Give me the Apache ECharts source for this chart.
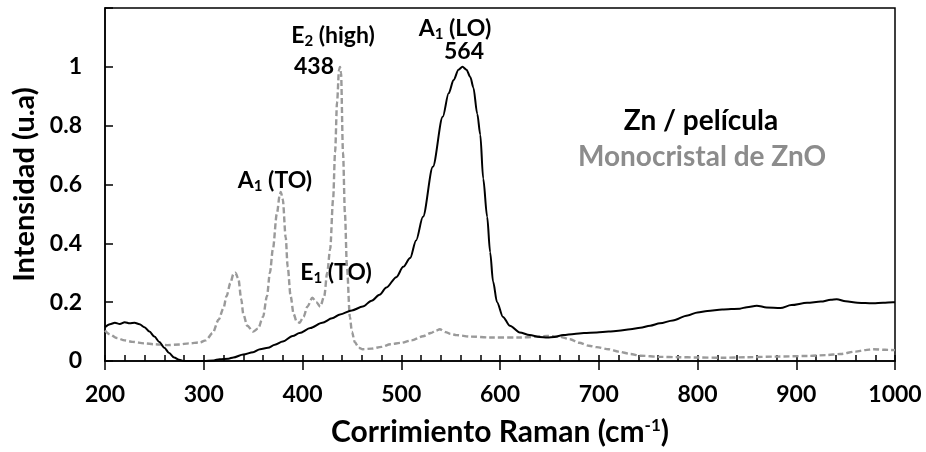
<!DOCTYPE html>
<html>
<head>
<meta charset="utf-8">
<script src="https://cdn.jsdelivr.net/npm/echarts@6/dist/echarts.min.js"></script>
<style>
html,body{margin:0;padding:0;background:#fff;}
#c{width:926px;height:452px;}
</style>
</head>
<body>
<div id="c"></div>
<script>
// Zn / película (solid black)
var filmX = [200,205,210,215,220,225,230,235,240,245,250,255,260,265,270,275,280,290,300,310,316,325,330,340,350,357,365,372,380,390,397,408,420,430,438,450,461,470,478,485,495,502,509,515,522,532,542,548,553,558,562,566,570,573,577,580,583,587,590,593,597,603,610,620,630,640,648,655,664,675,685,698,710,720,732,742,752,762,775,790,800,810,825,843,850,860,870,884,895,911,925,935,941,950,962,970,978,988,998,1000];
var filmY = [0.115,0.125,0.13,0.126,0.132,0.128,0.13,0.125,0.115,0.1,0.083,0.065,0.045,0.027,0.012,0.004,0.0,0.0,0.0,0.002,0.006,0.008,0.012,0.022,0.03,0.04,0.045,0.055,0.066,0.085,0.095,0.112,0.13,0.145,0.158,0.172,0.185,0.205,0.225,0.25,0.285,0.32,0.35,0.41,0.49,0.66,0.83,0.91,0.955,0.99,1.0,0.99,0.965,0.93,0.84,0.77,0.62,0.49,0.37,0.27,0.2,0.15,0.12,0.097,0.088,0.082,0.08,0.082,0.088,0.092,0.095,0.097,0.1,0.103,0.108,0.113,0.12,0.128,0.138,0.155,0.165,0.17,0.175,0.178,0.183,0.188,0.182,0.18,0.19,0.198,0.202,0.208,0.21,0.203,0.198,0.197,0.196,0.198,0.2,0.2];
// Monocristal de ZnO (dashed grey)
var monoX = [200,205,212,220,228,240,250,263,275,285,296,302,309,315,320,323,327,330,332,335,338,340,344,350,355,360,364,367,370,374,377,378,380,383,385,388,391,394,397,401,405,410,414,418,422,425,428,431,433,435,437,438,439,441,443,445,448,450,453,457,461,470,480,489,500,510,522,530,535,539,545,550,556,570,590,620,648,660,671,680,690,698,710,720,732,742,762,780,800,826,850,880,911,930,945,960,970,978,990,1000];
var monoY = [0.104,0.09,0.078,0.07,0.065,0.06,0.057,0.054,0.056,0.06,0.063,0.07,0.095,0.14,0.18,0.22,0.265,0.295,0.3,0.28,0.21,0.16,0.12,0.1,0.11,0.15,0.22,0.3,0.38,0.5,0.565,0.575,0.55,0.42,0.32,0.22,0.16,0.135,0.13,0.15,0.185,0.215,0.2,0.185,0.22,0.3,0.38,0.55,0.71,0.88,0.99,1.0,0.98,0.71,0.5,0.32,0.15,0.1,0.064,0.045,0.04,0.042,0.048,0.057,0.062,0.07,0.084,0.095,0.103,0.108,0.098,0.092,0.088,0.083,0.08,0.08,0.085,0.083,0.074,0.062,0.052,0.047,0.04,0.032,0.024,0.018,0.014,0.013,0.012,0.011,0.013,0.015,0.017,0.02,0.024,0.032,0.037,0.04,0.038,0.037];

var xTicks = [200,300,400,500,600,700,800,900,1000];
var yTicks = [0,0.2,0.4,0.6,0.8,1];

var FONT = 'Lato';
function zip(xs, ys){ return xs.map(function(x,i){ return [x, ys[i]]; }); }

var chart = echarts.init(document.getElementById('c'));
var sub = {fontFamily:FONT,fontWeight:'bold',fontSize:15,color:'#000',padding:[10,0,0,0]};
var main = {fontFamily:FONT,fontWeight:'bold',fontSize:23,color:'#000'};
function t(x,y,txt,color,size){
  return {type:'text',x:x,y:y,style:{text:txt,rich:{m:main,s:sub},
    font:'bold '+(size||23)+'px '+FONT,fill:color||'#000',align:'center',verticalAlign:'middle'}};
}
chart.setOption({
  animation:false,
  grid:{left:105,right:31,top:8,bottom:90,show:true,borderColor:'#000',borderWidth:1.5,backgroundColor:'transparent'},
  xAxis:[{
    type:'value',min:xTicks[0],max:xTicks[xTicks.length-1],interval:100,
    position:'bottom',
    name:'Corrimiento Raman (cm{s|-1})',nameLocation:'middle',nameGap:56,
    nameTextStyle:{fontFamily:FONT,fontWeight:'bold',fontSize:30,color:'#000',rich:{s:{fontFamily:FONT,fontWeight:'bold',fontSize:17,color:'#000',padding:[0,0,13,0]}}},
    axisLine:{show:true,lineStyle:{color:'#000',width:1.5}},
    axisTick:{show:true,inside:false,length:9,lineStyle:{color:'#000',width:1.5}},
    axisLabel:{fontFamily:FONT,fontWeight:'bold',fontSize:23,color:'#000',margin:22,
      formatter:function(v){ return String(v); }},
    splitLine:{show:false}
  },{
    type:'value',min:xTicks[0],max:xTicks[xTicks.length-1],interval:20,
    position:'bottom',
    axisLine:{show:false},
    axisTick:{show:true,inside:true,length:6,lineStyle:{color:'#000',width:1.5}},
    axisLabel:{show:false},splitLine:{show:false}
  }],
  yAxis:{
    type:'value',min:0,max:1.2,interval:0.2,
    name:'Intensidad (u.a)',nameLocation:'middle',nameGap:63,
    nameTextStyle:{fontFamily:FONT,fontWeight:'bold',fontSize:29,color:'#000'},
    axisLine:{show:true,lineStyle:{color:'#000',width:1.5}},
    axisTick:{show:true,inside:true,length:8,lineStyle:{color:'#000',width:1.5}},
    axisLabel:{fontFamily:FONT,fontWeight:'bold',fontSize:23,color:'#000',margin:23,
      formatter:function(v){ if(v>1.1) return ''; return String(+v.toFixed(1)); }},
    splitLine:{show:false}
  },
  series:[{
    type:'line',xAxisIndex:0,data:zip(monoX,monoY),showSymbol:false,smooth:0.3,smoothMonotone:'x',
    lineStyle:{color:'#9a9a9a',width:2.4,type:[6,3]},z:2
  },{
    type:'line',xAxisIndex:0,data:zip(filmX,filmY),showSymbol:false,smooth:0.3,smoothMonotone:'x',
    lineStyle:{color:'#000',width:2},z:3
  }],
  graphic:[
    t(333,36,'{m|E}{s|2}{m| (high)}'),
    t(314,67,'438'),
    t(455,29,'{m|A}{s|1}{m| (LO)}'),
    t(464,52,'564'),
    t(275,181,'{m|A}{s|1}{m| (TO)}'),
    t(336,273,'{m|E}{s|1}{m| (TO)}'),
    t(701,121,'Zn / película','#000',28),
    t(702,157,'Monocristal de ZnO','#8c8c8c',28)
  ]
});
</script>
</body>
</html>
